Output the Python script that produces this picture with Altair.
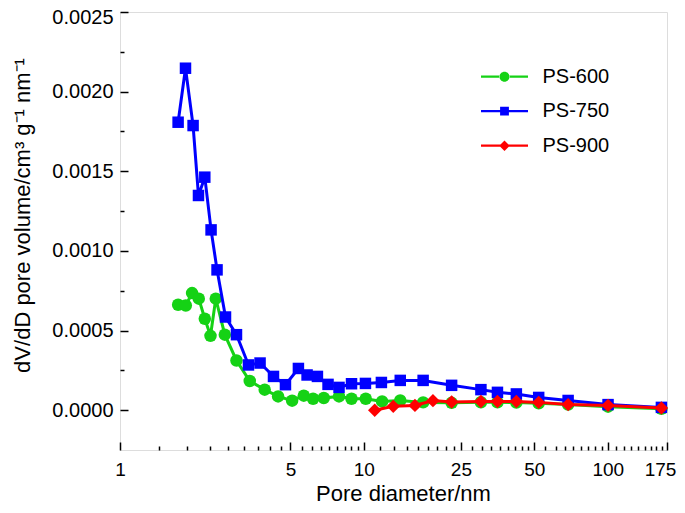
import altair as alt
import pandas as pd

FONT = "Liberation Sans"

series_names = ["PS-600", "PS-750", "PS-900"]
series_colors = ["#15d215", "#0000ff", "#ff0000"]
series_shapes = ["circle", "square", "diamond"]
series_sizes = [156, 132, 180]

# PS-600 (green)
d_600 = [1.731, 1.861, 1.975, 2.104, 2.227, 2.35, 2.47, 2.69, 3.004, 3.405, 3.92, 4.45,
         5.08, 5.67, 6.19, 6.85, 7.91, 8.9, 10.18, 11.88, 14.1, 17.5, 22.9, 30.2,
         35.3, 42.2, 52.1, 68.8, 100.3, 166]
v_600 = [0.000662, 0.000657, 0.000735, 0.000700, 0.000574, 0.000467, 0.000700, 0.000474,
         0.000312, 0.000183, 0.000129, 0.0000866, 0.0000596, 0.000091, 0.000072, 0.0000766,
         0.0000866, 0.000072, 0.000072, 0.000055, 0.0000615, 0.000049, 0.000046, 0.000050,
         0.000050, 0.000048, 0.000043, 0.000035, 0.000022, 0.000009]

# PS-750 (blue)
d_750 = [1.731, 1.856, 1.994, 2.098, 2.227, 2.363, 2.50, 2.708, 3.004, 3.364, 3.753, 4.26,
         4.77, 5.39, 5.85, 6.45, 7.13, 7.91, 8.90, 10.15, 11.8, 14.1, 17.5, 22.9, 30.2,
         35.3, 42.2, 52.1, 68.8, 100.3, 166]
v_750 = [0.001808, 0.002147, 0.001787, 0.001348, 0.001463, 0.001132, 0.000881, 0.000585,
         0.000474, 0.000284, 0.000296, 0.000212, 0.000160, 0.000262, 0.000221, 0.000212,
         0.000162, 0.000143, 0.000166, 0.000168, 0.000174, 0.000187, 0.000187, 0.000156,
         0.000129, 0.000112, 0.000102, 0.000080, 0.000061, 0.000035, 0.0000176]

# PS-900 (red)
d_900 = [11.08, 13.2, 16.2, 19.2, 22.9, 30.2, 35.3, 42.2, 52.1, 68.8, 100.3, 166]
v_900 = [0.0, 0.000024, 0.000030, 0.000060, 0.000051, 0.000055, 0.000055, 0.000055,
         0.000049, 0.000035, 0.000030, 0.000014]

x_major = [1, 5, 10, 25, 50, 100, 175]
y_major = [0.0, 0.0005, 0.001, 0.0015, 0.002, 0.0025]
x_minor = [a + (b - a) * k / 9 for a, b in zip(x_major[:-1], x_major[1:]) for k in range(1, 9)]
y_minor = [0.00025, 0.00075, 0.00125, 0.00175, 0.00225]

frames = []
for name, ds, vs in zip(series_names, [d_600, d_750, d_900], [v_600, v_750, v_900]):
    frames.append(pd.DataFrame({"Series": name, "D": ds, "V": vs}))
df = pd.concat(frames, ignore_index=True)

x_scale = alt.Scale(type="log", domain=[1, 175], nice=False)
y_scale = alt.Scale(domain=[-0.00025, 0.0025], nice=False, zero=False)

major_x = alt.Axis(
    orient="bottom", values=x_major, format="d", offset=-8, tickSize=8, tickWidth=1.5,
    tickColor="black", domain=False, grid=False, labelFont=FONT, labelFontSize=19,
    labelColor="black", labelPadding=10, labelFlush=False, labelOverlap=False,
    labelOffset={"condition": {"test": "datum.value == 175", "value": -7}, "value": 0},
    title="Pore diameter/nm", titleFont=FONT, titleFontSize=22, titleFontWeight="normal",
    titleColor="black", titleX=283, titleY=58, titleBaseline="alphabetic", titleAlign="center",
)
major_y = alt.Axis(
    orient="left", values=y_major, format=".4f", offset=-8, tickSize=8, tickWidth=1.5,
    tickColor="black", domain=False, grid=False, labelFont=FONT, labelFontSize=20,
    labelColor="black", labelPadding=7, labelFlush=False, labelOverlap=False,
    labelOffset={"condition": {"test": "datum.value == 0.0025", "value": 5}, "value": 0},
    title="dV/dD pore volume/cm³ g⁻¹ nm⁻¹", titleFont=FONT, titleFontSize=22,
    titleFontWeight="normal", titleColor="black", titleX=-106, titleY=203,
    titleAngle=-90, titleBaseline="middle", titleAlign="center",
)
minor_x = alt.Axis(
    orient="bottom", values=x_minor, offset=-4, tickSize=4, tickWidth=1.5, tickColor="black",
    domain=False, grid=False, labels=False, title=None,
)
minor_y = alt.Axis(
    orient="left", values=y_minor, offset=-4, tickSize=4, tickWidth=1.5, tickColor="black",
    domain=False, grid=False, labels=False, title=None,
)

legend_paths = [
    "M-4.7,-0.23H-0.9V0.23H-4.7Z M0.9,-0.23H4.7V0.23H0.9Z M-1,0A1,1,0,1,0,1,0A1,1,0,1,0,-1,0Z",
    "M-4.7,-0.23H-0.85V0.23H-4.7Z M0.85,-0.23H4.7V0.23H0.85Z M-0.88,-0.88H0.88V0.88H-0.88Z",
    "M-4.7,-0.23H-0.8V0.23H-4.7Z M0.8,-0.23H4.7V0.23H0.8Z M0,-1.05L1.05,0L0,1.05L-1.05,0Z",
]

base = alt.Chart(df)
layers = []
for i, (name, col, shp, sz) in enumerate(zip(series_names, series_colors, series_shapes, series_sizes)):
    sub = base.transform_filter(alt.datum.Series == name)
    line = sub.mark_line(color=col, strokeWidth=3).encode(
        x=alt.X("D:Q", scale=x_scale, axis=major_x if i == 0 else None),
        y=alt.Y("V:Q", scale=y_scale, axis=major_y if i == 0 else None),
        order="D:Q",
    )
    pts = sub.mark_point(shape=shp, filled=True, color=col, size=sz, opacity=1).encode(
        x=alt.X("D:Q", scale=x_scale, axis=None),
        y=alt.Y("V:Q", scale=y_scale, axis=None),
    )
    layers += [line, pts]

leg = alt.Legend(
    title=None, orient="none", legendX=374.5, legendY=54.7, padding=0,
    labelFont=FONT, labelFontSize=20, labelColor="black", labelOffset=28,
    rowPadding=14.5, symbolStrokeWidth=0,
)
legend_layer = base.transform_filter("datum.D < 0").mark_point(
    filled=True, size=144, opacity=1
).encode(
    x=alt.X("D:Q", scale=x_scale, axis=minor_x),
    y=alt.Y("V:Q", scale=y_scale, axis=minor_y),
    color=alt.Color("Series:N", scale=alt.Scale(domain=series_names, range=series_colors), legend=leg),
    shape=alt.Shape("Series:N", scale=alt.Scale(domain=series_names, range=legend_paths), legend=leg),
)
layers.append(legend_layer)

chart = alt.layer(*layers).resolve_axis(x="independent", y="independent").properties(
    width=547, height=438,
    padding={"left": 112, "top": 4, "right": 10, "bottom": 55},
    autosize=alt.AutoSizeParams(type="none"),
).configure_view(stroke="black", strokeWidth=2).configure(background="white")

chart.save("out.html", embed_options={"renderer": "svg", "actions": False})
